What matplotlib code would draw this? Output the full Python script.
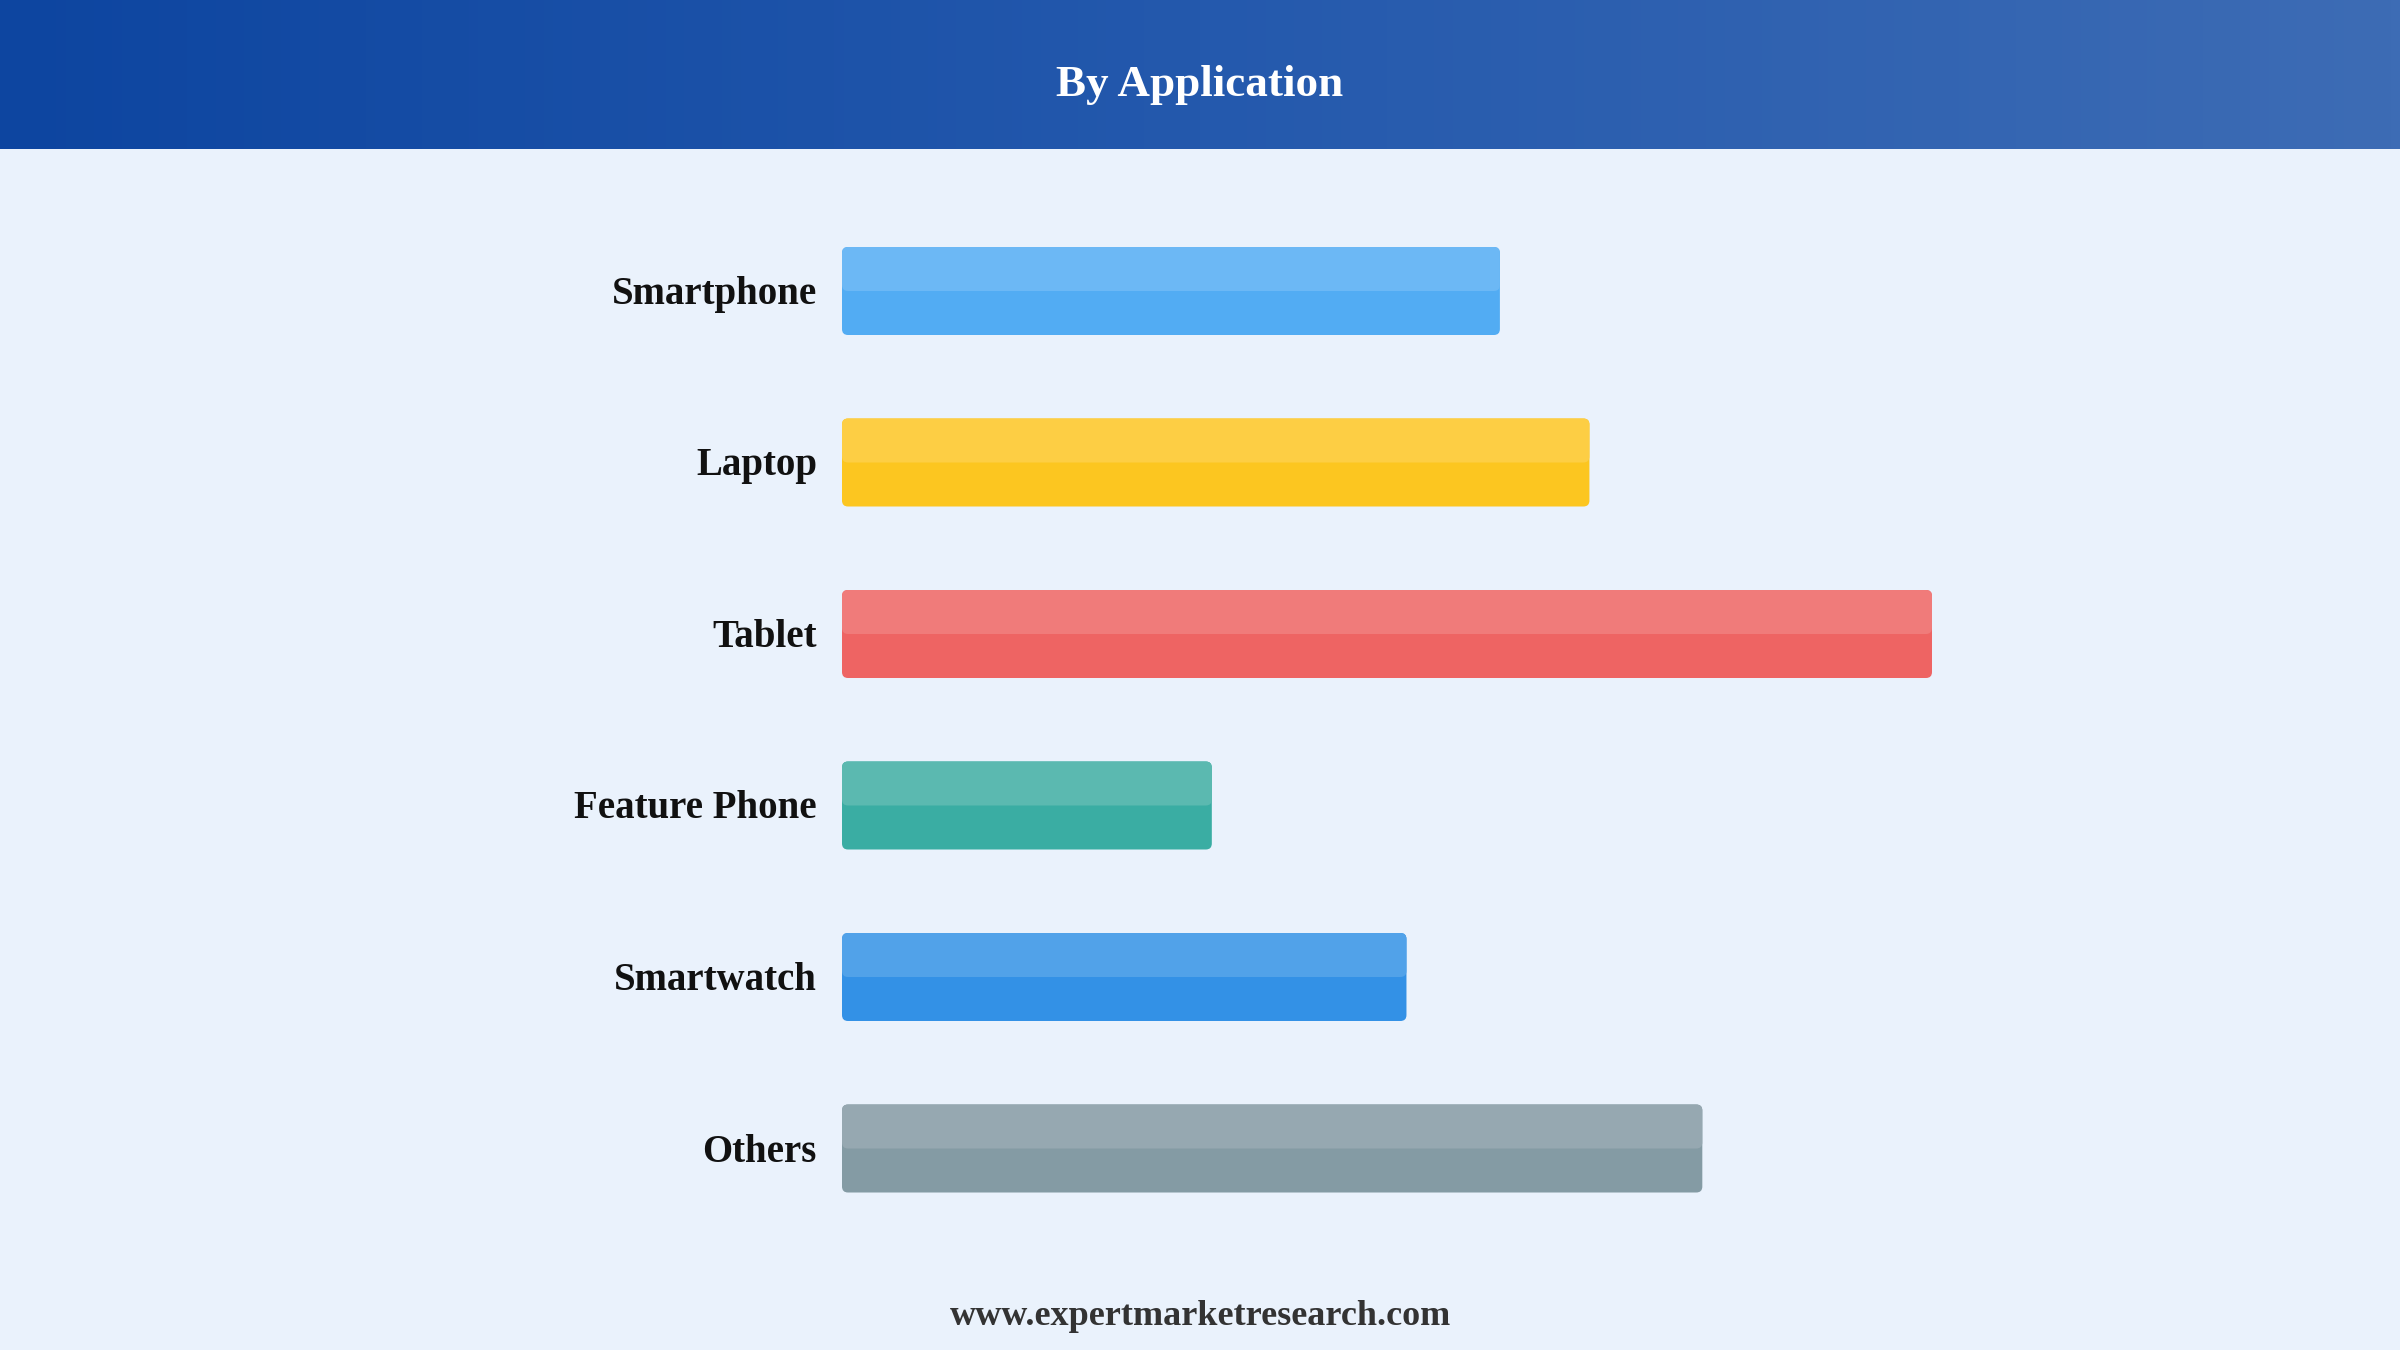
import numpy as np
import matplotlib.pyplot as plt
from matplotlib.patches import FancyBboxPatch
from matplotlib.colors import LinearSegmentedColormap
from matplotlib.transforms import offset_copy

# data
categories = ['Smartphone', 'Laptop', 'Tablet', 'Feature Phone', 'Smartwatch', 'Others']
values = [16.9, 19.2, 28.0, 9.5, 14.5, 22.1]
top_colors = ['#6CB8F5', '#FDCE44', '#F07B7A', '#5BB9B0', '#51A2E9', '#96A8B1']
bottom_colors = ['#52ACF3', '#FCC620', '#EE6463', '#3AADA3', '#3391E6', '#849BA4']
title = 'By Application'
footer = 'www.expertmarketresearch.com'

W, H = 2400, 1350
BG = '#EAF2FC'
SERIF = ['Liberation Serif', 'DejaVu Serif']

fig = plt.figure(figsize=(24, 13.5), dpi=100, facecolor=BG)

# header band with horizontal gradient
hdr_h = 149
hax = fig.add_axes([0, 1 - hdr_h / H, 1, hdr_h / H])
cmap = LinearSegmentedColormap.from_list('hdr', ['#0D45A0', '#2459AD', '#3D6CB5'])
hax.imshow(np.linspace(0, 1, 256)[None, :], aspect='auto', cmap=cmap, extent=[0, 1, 0, 1])
hax.axis('off')
fig.text(0.5, 1 - 96 / H, title, ha='center', va='baseline', color='white',
         fontsize=32.5, fontweight='bold', family=SERIF)

# bar area: bar left at x=842, tablet end at x=1932; centers 291..1148.5 step 171.5
step = 171.5
x0, x1 = 842, 1932
top_px = 291 - step / 2
bot_px = 1148.5 + step / 2
ax = fig.add_axes([x0 / W, 1 - bot_px / H, (x1 - x0) / W, (bot_px - top_px) / H])
ax.set_facecolor('none')
n = len(categories)
ax.set_xlim(0, max(values))
ax.set_ylim(n - 0.5, -0.5)
ax.axis('off')

bar_h = 88 / step
xu = max(values) / (x1 - x0)      # x units per pixel
yu = 1 / step                     # y units per pixel
aspect = yu / xu
r = 6 * xu

for i, (cat, v) in enumerate(zip(categories, values)):
    y_top = i - bar_h / 2
    ax.add_patch(FancyBboxPatch((0, y_top), v, bar_h,
                                boxstyle=f'round,pad=0,rounding_size={r}',
                                mutation_aspect=aspect, facecolor=bottom_colors[i],
                                edgecolor='none', zorder=2))
    ax.add_patch(FancyBboxPatch((0, y_top), v, bar_h / 2,
                                boxstyle=f'round,pad=0,rounding_size={r}',
                                mutation_aspect=aspect, facecolor=top_colors[i],
                                edgecolor='none', zorder=3))
    trans = offset_copy(ax.transData, fig=fig, x=-25, y=-13, units='dots')
    ax.text(0, i, cat, transform=trans, ha='right', va='baseline', fontsize=28,
            fontweight='bold', color='#111111', family=SERIF)

fig.text(0.5, 1 - 1325 / H, footer, ha='center', va='baseline', color='#333333',
         fontsize=26, fontweight='bold', family=SERIF)

fig.savefig('out.png', dpi=100, facecolor=BG)
